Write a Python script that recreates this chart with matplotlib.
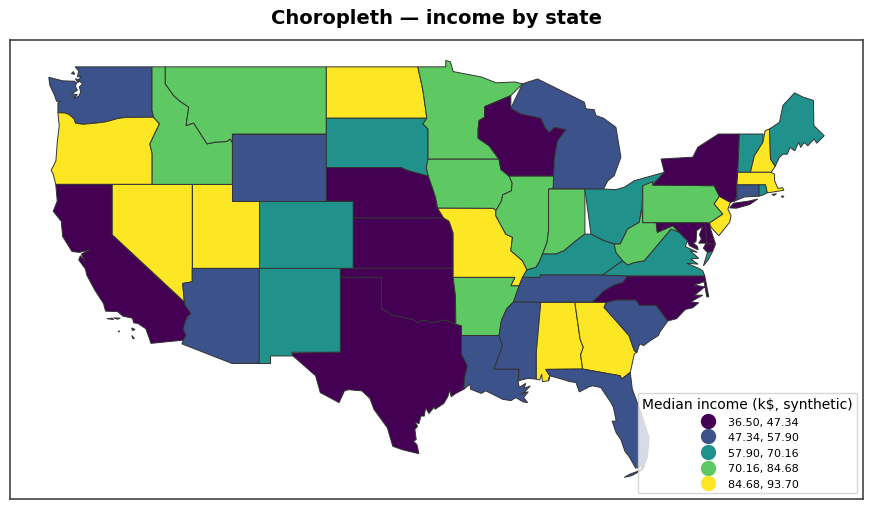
import matplotlib
matplotlib.use("Agg")
import matplotlib.pyplot as plt
from matplotlib.lines import Line2D
from matplotlib.patches import Polygon

# class per state (0 lowest .. 4 highest)
class_labels = ["36.50, 47.34", "47.34, 57.90", "57.90, 70.16", "70.16, 84.68", "84.68, 93.70"]
state_class = {
    "WA": 1, "OR": 4, "CA": 0, "NV": 4, "ID": 3, "MT": 3, "WY": 1, "UT": 4, "AZ": 1, "CO": 2,
    "NM": 2, "ND": 4, "SD": 2, "NE": 0, "KS": 0, "OK": 0, "TX": 0, "MN": 3, "IA": 3, "MO": 4,
    "AR": 3, "LA": 1, "WI": 0, "IL": 3, "MI": 1, "IN": 3, "OH": 2, "KY": 2, "TN": 1, "MS": 1,
    "AL": 4, "GA": 4, "FL": 1, "SC": 1, "NC": 0, "VA": 2, "WV": 3, "PA": 3, "NY": 0, "VT": 2,
    "NH": 4, "ME": 2, "MA": 4, "CT": 1, "RI": 2, "NJ": 4, "DE": 0, "MD": 0,
}

# state outlines as (lon, lat); some states have more than one part
outlines = {
    "WA": [[(-122.76, 49), (-122.5, 48.75), (-122.6, 48.4), (-122.3, 48.45), (-122.55, 48.2), (-122.2, 48.0), (-122.45, 47.8), (-122.35, 47.5),
            (-122.5, 47.25), (-122.9, 47.12), (-122.6, 47.35), (-123.05, 47.4), (-122.6, 47.6), (-122.75, 47.85), (-122.65, 48.05), (-122.85, 48.15), (-123.15, 48.15), (-123.7, 48.17), (-124.73, 48.38),
            (-124.65, 47.9), (-124.3, 47.3), (-124.15, 46.95), (-123.85, 46.95), (-124.05, 46.85), (-124.05, 46.27), (-123.5, 46.25), (-123.2, 46.15),
            (-122.85, 45.9), (-122.75, 45.65), (-122.2, 45.58), (-121.2, 45.65), (-120.5, 45.72), (-119.6, 45.92),
            (-118.98, 45.99), (-116.92, 46.0), (-117.04, 46.42), (-117.04, 49)],
           [(-123.05, 48.6), (-122.9, 48.72), (-122.8, 48.55)], [(-122.75, 48.3), (-122.55, 48.05), (-122.45, 48.2)]],
    "OR": [[(-124.05, 46.27), (-123.5, 46.25), (-123.2, 46.15), (-122.85, 45.9), (-122.75, 45.65), (-122.2, 45.58), (-121.2, 45.65),
            (-120.5, 45.72), (-119.6, 45.92), (-118.98, 45.99), (-116.92, 46.0), (-116.48, 45.6), (-116.85, 45.0),
            (-117.2, 44.4), (-117.03, 43.85), (-117.03, 42), (-124.21, 42), (-124.4, 42.6), (-124.55, 42.84), (-124.2, 43.4),
            (-124.1, 44.5), (-123.95, 45.5)]],
    "CA": [[(-124.21, 42), (-120, 42), (-120, 39), (-114.63, 35.0), (-114.57, 34.8), (-114.14, 34.3), (-114.43, 34.1), (-114.72, 33.4),
            (-114.5, 33.0), (-114.72, 32.72), (-117.12, 32.53), (-117.25, 32.85), (-117.5, 33.4), (-118.1, 33.72), (-118.4, 33.75), (-118.5, 34.03),
            (-119.2, 34.15), (-119.6, 34.42), (-120.5, 34.45), (-120.65, 34.9), (-121.3, 35.7), (-121.9, 36.6), (-122.0, 36.96),
            (-122.5, 37.5), (-122.38, 37.75), (-122.05, 37.45), (-122.3, 37.85), (-121.7, 38.1), (-122.45, 37.95), (-123.0, 38.0), (-123.7, 38.9), (-123.8, 39.8), (-124.4, 40.4), (-124.1, 41.0)],
           [(-120.4, 34.0), (-120.0, 34.03), (-119.9, 33.95)], [(-119.9, 34.05), (-119.4, 34.03), (-119.6, 33.97)],
           [(-119.55, 33.25), (-119.45, 33.27), (-119.5, 33.2)],
           [(-118.55, 33.45), (-118.3, 33.35), (-118.5, 33.3)], [(-118.55, 33.0), (-118.35, 32.82), (-118.45, 32.8)]],
    "NV": [[(-120, 42), (-114.04, 42), (-114.04, 36.2), (-114.75, 36.1), (-114.63, 35.0), (-120, 39)]],
    "UT": [[(-114.04, 42), (-111.05, 42), (-111.05, 41), (-109.05, 41), (-109.05, 37), (-114.04, 37)]],
    "AZ": [[(-114.04, 37), (-109.05, 37), (-109.05, 31.33), (-111.07, 31.33), (-114.81, 32.5), (-114.72, 32.72), (-114.5, 33), (-114.72, 33.4),
            (-114.43, 34.1), (-114.14, 34.3), (-114.57, 34.8), (-114.63, 35), (-114.75, 36.1), (-114.04, 36.2)]],
    "ID": [[(-117.04, 49), (-116.05, 49), (-116.05, 47.99), (-115.43, 47.29), (-114.95, 46.95), (-114.3, 46.6), (-114.5, 45.5), (-113.94, 45.66),
            (-113.45, 45.05), (-112.94, 44.41), (-112.3, 44.52), (-111.5, 44.55), (-111.2, 44.7), (-111.05, 44.48), (-111.05, 42), (-117.03, 42),
            (-117.03, 43.85), (-117.2, 44.4), (-116.85, 45), (-116.48, 45.6), (-116.92, 46), (-117.04, 46.42)]],
    "MT": [[(-116.05, 49), (-104.05, 49), (-104.05, 45), (-111.05, 45), (-111.05, 44.48), (-111.2, 44.7), (-111.5, 44.55), (-112.3, 44.52), (-112.94, 44.41),
            (-113.45, 45.05), (-113.94, 45.66), (-114.5, 45.5), (-114.3, 46.6), (-114.95, 46.95), (-115.43, 47.29), (-116.05, 47.99)]],
    "WY": [[(-111.05, 45), (-104.05, 45), (-104.05, 41), (-111.05, 41)]],
    "CO": [[(-109.05, 41), (-102.05, 41), (-102.05, 37), (-109.05, 37)]],
    "NM": [[(-109.05, 37), (-103, 37), (-103, 32), (-106.62, 32), (-106.53, 31.78), (-108.21, 31.78), (-108.21, 31.33), (-109.05, 31.33)]],
    "ND": [[(-104.05, 49), (-97.23, 49), (-96.85, 47.6), (-96.56, 45.94), (-104.05, 45.94)]],
    "SD": [[(-104.05, 45.94), (-96.56, 45.94), (-96.85, 45.6), (-96.47, 45.3), (-96.47, 43.5), (-96.6, 43.0), (-96.45, 42.49), (-97.9, 42.8), (-98.5, 43), (-104.05, 43)]],
    "NE": [[(-104.05, 43), (-98.5, 43), (-97.9, 42.8), (-96.45, 42.49), (-96.1, 41.7), (-95.9, 41.2), (-95.76, 40.58), (-95.31, 40), (-102.05, 40), (-102.05, 41), (-104.05, 41)]],
    "KS": [[(-102.05, 40), (-95.31, 40), (-94.9, 39.8), (-94.6, 39.1), (-94.6, 37), (-102.05, 37)]],
    "OK": [[(-103, 37), (-94.6, 37), (-94.6, 36.46), (-94.43, 35.4), (-94.4, 33.67), (-95.16, 33.92), (-95.6, 33.85), (-96.27, 33.73), (-96.6, 33.88), (-97.0, 33.87), (-97.2, 33.75), (-97.6, 33.95), (-98.0, 34.0),
            (-98.5, 34.12), (-99.1, 34.17), (-99.5, 34.4), (-99.95, 34.6), (-99.95, 36.46), (-103, 36.46)]],
    "TX": [[(-103, 36.46), (-99.95, 36.46), (-99.95, 34.6), (-99.5, 34.4), (-99.1, 34.17), (-98.5, 34.12), (-98.0, 34.0), (-97.6, 33.95), (-97.2, 33.75), (-97.0, 33.87), (-96.6, 33.88), (-96.27, 33.73), (-95.6, 33.85), (-95.16, 33.92), (-94.4, 33.67),
            (-93.98, 33.58), (-93.98, 31.9), (-93.54, 31.2), (-93.75, 30.5), (-93.8, 29.8), (-94.4, 29.55), (-94.75, 29.35), (-94.85, 29.75), (-95.0, 29.35), (-95.3, 28.95), (-95.95, 28.6), (-96.0, 28.75), (-96.4, 28.35), (-96.65, 28.7), (-96.75, 28.2),
            (-97.0, 28.2), (-97.15, 27.75), (-97.45, 27.85), (-97.25, 27.6), (-97.45, 27.4), (-97.35, 26.8), (-97.55, 26.7), (-97.3, 26.5), (-97.15, 25.96), (-97.9, 26.1), (-98.4, 26.2), (-99.1, 26.4), (-99.5, 27.5), (-100.5, 28.6), (-100.8, 29.25),
            (-101.4, 29.7), (-102.4, 29.77), (-102.7, 29.7), (-103.1, 29.0), (-104.5, 29.6), (-104.85, 30.6), (-106.53, 31.78), (-106.6, 31.95), (-103, 32)]],
    "MN": [[(-97.23, 49), (-95.15, 49), (-95.15, 49.38), (-94.8, 49.3), (-94.6, 48.72), (-93.5, 48.55), (-92.5, 48.4), (-91.4, 48.05), (-90, 48.1), (-89.43, 47.99),
            (-90.3, 47.29), (-92.25, 46.63), (-92.25, 46.0), (-92.67, 45.8), (-92.74, 45.3), (-92.74, 44.75), (-91.92, 44.3), (-91.18, 43.5),
            (-96.47, 43.5), (-96.47, 45.3), (-96.85, 45.6), (-96.56, 45.94), (-96.85, 47.6)]],
    "IA": [[(-96.47, 43.5), (-91.18, 43.5), (-91.05, 42.9), (-90.43, 42.49), (-90.2, 42.08), (-90.26, 41.62), (-90.92, 41.37), (-90.98, 41.03), (-91.42, 40.43),
            (-91.6, 40.57), (-95.76, 40.58), (-95.9, 41.2), (-96.1, 41.7), (-96.45, 42.49), (-96.6, 43.0)]],
    "MO": [[(-95.76, 40.58), (-91.6, 40.57), (-91.42, 40.43), (-91.42, 40.13), (-90.68, 39.04), (-90.18, 38.85), (-90.3, 38.05), (-89.43, 37.45), (-89.1, 36.91),
            (-89.43, 36.46), (-89.68, 35.96), (-90.3, 35.96), (-90.0, 36.46), (-94.6, 36.46), (-94.6, 39.1), (-94.9, 39.8), (-95.31, 40)]],
    "AR": [[(-94.6, 36.46), (-90.0, 36.46), (-90.3, 35.96), (-89.68, 35.96), (-90.1, 35.0), (-90.6, 34.6), (-91.0, 33.9), (-91.18, 33.0), (-93.98, 33.0),
            (-93.98, 33.58), (-94.4, 33.67), (-94.43, 35.4)]],
    "LA": [[(-93.98, 33.0), (-91.18, 33.0), (-90.92, 32.4), (-91.55, 31.0), (-89.68, 31.0), (-89.76, 30.3), (-89.68, 29.9), (-89.2, 30.15), (-89.3, 29.85), (-88.85, 30.0), (-89.25, 29.65), (-89.6, 29.5), (-89.0, 29.65), (-89.35, 29.3),
            (-89.05, 29.0), (-89.4, 29.05), (-89.93, 29.3), (-90.3, 29.12), (-90.92, 29.2), (-91.4, 29.4), (-92.17, 29.7), (-92.5, 29.55), (-93.3, 29.8), (-93.35, 30.1), (-93.8, 29.8), (-93.75, 30.5), (-93.54, 31.2), (-93.98, 31.9)]],
    "WI": [[(-92.25, 46.63), (-90.3, 47.29), (-90.3, 46.54), (-89.56, 46.2), (-88.06, 45.94), (-87.76, 45.4), (-87.44, 45.1), (-87.07, 45.4), (-86.2, 45.26),
            (-86.82, 44.6), (-87.07, 43.5), (-87.02, 42.49), (-90.43, 42.49), (-91.05, 42.9), (-91.18, 43.5), (-91.92, 44.3), (-92.74, 44.75), (-92.74, 45.3), (-92.67, 45.8), (-92.25, 46.0)]],
    "IL": [[(-90.43, 42.49), (-87.02, 42.49), (-87.15, 41.76), (-87.49, 41.72), (-87.49, 39.24), (-87.6, 38.55), (-87.94, 37.85), (-88.2, 37.35), (-88.44, 37.05), (-89.1, 36.91),
            (-89.43, 37.45), (-90.3, 38.05), (-90.18, 38.85), (-90.68, 39.04), (-91.42, 40.13), (-91.42, 40.43), (-90.98, 41.03), (-90.92, 41.37), (-90.26, 41.62), (-90.2, 42.08)]],
    "MI": [[(-89.43, 47.99), (-88.31, 48.28), (-84.83, 46.9), (-84.7, 46.5), (-84.09, 46.45), (-83.96, 46.1), (-83.39, 45.94), (-82.47, 45.4), (-82.1, 43.62), (-82.6, 42.52),
            (-83.09, 42.2), (-83.39, 41.72), (-84.78, 41.72), (-87.15, 41.76), (-87.07, 43.5), (-86.82, 44.6), (-86.2, 45.26), (-87.07, 45.4), (-87.44, 45.1), (-87.76, 45.4),
            (-88.06, 45.94), (-89.56, 46.2), (-90.3, 46.54)]],
    "IN": [[(-87.49, 41.72), (-84.78, 41.72), (-84.78, 39.04), (-85.45, 38.64), (-86.33, 38.05), (-86.94, 37.85), (-87.94, 37.85), (-87.6, 38.55), (-87.49, 39.24)]],
    "OH": [[(-84.78, 41.72), (-83.39, 41.72), (-82.47, 41.69), (-81.85, 41.83), (-81.1, 42.22), (-78.86, 42.72), (-79.73, 42.0), (-80.47, 41.92), (-80.53, 40.63), (-80.73, 39.74), (-81.6, 39.34),
            (-82.15, 38.45), (-82.6, 38.45), (-83.34, 38.64), (-84.33, 39.04)]],
    "KY": [[(-84.78, 39.04), (-84.33, 39.04), (-83.34, 38.64), (-82.6, 38.45), (-82.47, 37.95), (-81.97, 37.45), (-83.46, 36.6), (-88.1, 36.6), (-88.1, 36.46), (-89.43, 36.46),
            (-89.1, 36.91), (-88.44, 37.05), (-88.2, 37.35), (-87.94, 37.85), (-86.94, 37.85), (-86.33, 38.05), (-85.45, 38.64)]],
    "TN": [[(-89.68, 35.96), (-89.43, 36.46), (-88.1, 36.46), (-88.1, 36.6), (-83.46, 36.6), (-81.6, 36.55), (-81.95, 36.15), (-82.6, 36.0), (-83.34, 35.66), (-84.21, 35.0), (-88.07, 34.97), (-90.1, 35.0)]],
    "MS": [[(-91.18, 33.0), (-91.0, 33.9), (-90.6, 34.6), (-90.1, 35.0), (-88.07, 34.97), (-88.4, 32), (-88.4, 30.4), (-89.0, 30.45), (-89.76, 30.3), (-89.68, 31), (-91.55, 31), (-90.92, 32.4)]],
    "AL": [[(-88.07, 34.97), (-85.53, 34.97), (-85.14, 32.78), (-84.9, 32.3), (-85.1, 31.85), (-84.95, 31.0), (-87.7, 30.98), (-87.4, 30.6), (-87.5, 30.3), (-87.95, 30.25), (-88.0, 30.7), (-88.15, 30.35), (-88.4, 30.4), (-88.4, 32)]],
    "GA": [[(-85.53, 34.97), (-83.2, 34.97), (-83.35, 34.67), (-82.6, 34.0), (-81.5, 33.0), (-81.1, 32.1), (-80.9, 32.0), (-81.1, 31.9), (-81.4, 30.8), (-82.05, 30.4), (-82.15, 30.6), (-84.95, 31.0), (-84.95, 31.0), (-85.1, 31.85), (-84.9, 32.3), (-85.14, 32.78)]],
    "FL": [[(-87.7, 30.98), (-84.95, 31.0), (-82.15, 30.6), (-82.05, 30.4), (-81.4, 30.8), (-81.25, 29.8), (-80.6, 28.4), (-80.0, 26.9), (-80.12, 25.8), (-80.4, 25.2), (-81.0, 25.1),
            (-81.5, 25.8), (-81.8, 26.1), (-82.1, 26.8), (-82.45, 27.2), (-82.75, 27.9), (-82.45, 27.9), (-82.65, 28.7), (-82.84, 29.0), (-83.6, 29.9), (-84.2, 30.0), (-84.45, 29.95), (-85.2, 29.64), (-85.45, 30.2), (-85.9, 30.25), (-86.5, 30.4), (-87.4, 30.6), (-87.5, 30.3), (-87.4, 30.6)],
           [(-81.85, 24.55), (-81.3, 24.65), (-80.5, 25.0), (-80.3, 25.3), (-80.7, 24.95), (-81.4, 24.75)]],
    "SC": [[(-83.35, 34.67), (-83.2, 34.97), (-82.47, 35.12), (-80.97, 35.12), (-80.72, 34.8), (-79.48, 34.8), (-78.6, 33.87), (-79.2, 33.2), (-79.3, 33.0), (-79.9, 32.7), (-80.4, 32.4), (-80.7, 32.5), (-80.9, 32.0), (-81.1, 32.1), (-81.5, 33.0), (-82.6, 34.0)]],
    "NC": [[(-84.21, 35.0), (-83.34, 35.66), (-82.6, 36.0), (-81.95, 36.15), (-81.6, 36.55), (-75.85, 36.55), (-75.55, 35.3), (-75.7, 35.3), (-75.9, 36.2), (-76.65, 36.0), (-75.85, 35.9), (-76.6, 35.4), (-76.0, 35.4), (-76.9, 35.0), (-76.3, 34.95), (-76.75, 34.65),
            (-77.3, 34.55), (-77.95, 34.0), (-78.6, 33.87), (-79.48, 34.8), (-80.72, 34.8), (-80.97, 35.12), (-82.47, 35.12), (-83.2, 34.97)]],
    "VA": [[(-83.46, 36.6), (-81.97, 37.45), (-81.6, 37.2), (-81.1, 37.35), (-80.36, 37.45), (-79.2, 38.55), (-78.37, 39.34), (-77.74, 39.14), (-77.13, 38.64), (-77.3, 38.3), (-76.4, 37.95), (-76.95, 38.05), (-76.3, 37.6), (-76.9, 37.55),
            (-76.35, 37.25), (-77.2, 37.3), (-76.3, 37.0), (-76.0, 36.85), (-75.85, 36.55), (-81.6, 36.55)],
           [(-75.95, 37.15), (-75.6, 37.5), (-75.25, 38.03), (-75.65, 37.95)]],
    "WV": [[(-80.47, 39.72), (-79.47, 39.72), (-79.39, 39.14), (-78.24, 39.54), (-77.74, 39.14), (-78.37, 39.34), (-79.2, 38.55), (-80.36, 37.45), (-81.1, 37.35), (-81.6, 37.2), (-81.97, 37.45), (-82.47, 37.95),
            (-82.6, 38.45), (-82.15, 38.45), (-81.6, 39.34), (-80.73, 39.74), (-80.53, 40.63)]],
    "MD": [[(-79.47, 39.72), (-75.79, 39.72), (-75.7, 38.46), (-75.05, 38.45), (-75.25, 38.03), (-75.65, 37.95), (-75.95, 38.2), (-75.75, 38.5), (-76.3, 38.5), (-76.1, 38.75), (-76.25, 39.0), (-76.0, 39.5), (-76.45, 39.25), (-76.5, 38.6),
            (-76.7, 38.5), (-76.4, 38.3), (-76.35, 38.1), (-77.0, 38.35), (-77.13, 38.64), (-77.74, 39.14), (-78.24, 39.54), (-79.39, 39.14)]],
    "DE": [[(-75.79, 39.72), (-75.55, 39.82), (-75.4, 39.3), (-75.05, 38.45), (-75.7, 38.46)]],
    "PA": [[(-80.47, 41.92), (-79.73, 42.16), (-79.73, 41.96), (-75.15, 41.92), (-74.76, 41.29), (-75.15, 40.83), (-74.5, 40.23), (-75.49, 39.7), (-75.79, 39.72), (-80.47, 39.72)]],
    "NJ": [[(-74.76, 41.29), (-73.94, 40.93), (-74.13, 40.53), (-73.89, 40.13), (-74.0, 39.74), (-74.8, 38.94), (-75.38, 39.44), (-75.49, 39.7), (-74.5, 40.23), (-75.15, 40.83)]],
    "NY": [[(-79.73, 41.96), (-78.86, 42.72), (-79.11, 43.51), (-76.74, 43.62), (-76.37, 44.21), (-74.83, 45.0), (-73.27, 45.0), (-73.39, 42.72), (-73.46, 41.97), (-73.46, 41.23), (-73.65, 41.0), (-73.94, 40.93),
            (-74.76, 41.29), (-75.15, 41.92)],
           [(-74.0, 40.6), (-73.7, 40.88), (-72.6, 41.0), (-71.9, 41.13), (-72.5, 40.8), (-73.5, 40.58)]],
    "VT": [[(-73.27, 45), (-71.5, 45.0), (-71.52, 44.5), (-72.15, 43.71), (-72.45, 42.72), (-73.39, 42.72)]],
    "NH": [[(-71.35, 45.2), (-71.03, 45.3), (-70.95, 43.51), (-70.6, 43.08), (-70.9, 42.72), (-72.45, 42.72), (-72.15, 43.71), (-71.52, 44.5)]],
    "ME": [[(-71.03, 45.3), (-70.28, 45.7), (-70.03, 46.7), (-69.16, 47.45), (-68.53, 47.2), (-67.75, 47.0), (-67.72, 45.5), (-66.95, 44.9), (-67.5, 44.45), (-67.7, 44.7), (-68.17, 44.3), (-68.45, 44.5), (-68.7, 44.2), (-68.85, 44.5), (-69.15, 44.0),
            (-69.5, 44.2), (-69.7, 43.8), (-70.03, 43.8), (-70.3, 43.6), (-70.6, 43.08), (-70.95, 43.51)]],
    "MA": [[(-73.39, 42.72), (-70.9, 42.72), (-70.65, 42.6), (-70.65, 42.22), (-70.4, 41.76), (-70.05, 41.8), (-69.95, 41.65), (-70.9, 41.53), (-71.2, 41.5), (-71.33, 41.97), (-73.46, 41.97)],
           [(-70.85, 41.4), (-70.5, 41.45), (-70.7, 41.33)], [(-70.15, 41.3), (-69.95, 41.3), (-70.05, 41.22)]],
    "CT": [[(-73.46, 41.97), (-71.8, 41.97), (-71.8, 41.3), (-72.9, 41.25), (-73.65, 41.0), (-73.46, 41.23)]],
    "RI": [[(-71.8, 41.97), (-71.33, 41.97), (-71.2, 41.5), (-71.5, 41.37), (-71.8, 41.3)]],
}

colors = ["#440154", "#3b528b", "#21918c", "#5ec962", "#fde725"]

fig = plt.figure(figsize=(8.72, 5.10), dpi=100)
ax = fig.add_axes([10 / 872, 1 - 500 / 510, 853 / 872, 459 / 510])

for state, parts in outlines.items():
    col = colors[state_class[state]]
    for part in parts:
        ax.add_patch(Polygon(part, closed=True, facecolor=col, edgecolor="#333333", linewidth=0.7))

ax.set_xlim(-127.62, -64.06)
ax.set_ylim(23.26, 50.6)
ax.set_xticks([])
ax.set_yticks([])
for sp in ax.spines.values():
    sp.set_color("#444444")
    sp.set_linewidth(1.2)

fig.text(0.5, 1 - 18.5 / 510, "Choropleth \u2014 income by state", ha="center", va="center",
         fontsize=14, fontweight="bold")

handles = [Line2D([], [], linestyle="none", marker="o", markersize=10, color=c) for c in colors]
ax.legend(handles, class_labels, title="Median income (k$, synthetic)", loc="lower right",
          fontsize=8, title_fontsize=10, borderaxespad=0.5)

fig.savefig("out.png", dpi=100)
